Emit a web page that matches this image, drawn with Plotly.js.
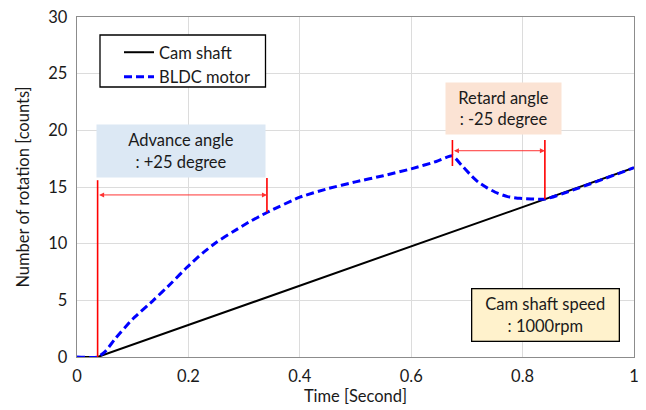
<!DOCTYPE html>
<html>
<head>
<meta charset="utf-8">
<script src="https://cdn.plot.ly/plotly-3.0.1.min.js"></script>
<style>html,body{margin:0;padding:0;background:#fff;}#chart{width:646px;height:410px;}</style>
</head>
<body>
<div id="chart"></div>
<script>
// ---- data ----
var camTime = [0, 0.037, 1.0];
var camCounts = [0, 0, 16.7];

var bldcTime = [0, 0.037, 0.05, 0.07, 0.1, 0.137, 0.17, 0.197, 0.225, 0.251, 0.28, 0.305, 0.341,
                0.4, 0.45, 0.5, 0.55, 0.6, 0.645, 0.674, 0.69, 0.707, 0.72, 0.737, 0.755, 0.773,
                0.795, 0.815, 0.84, 1.0];
var bldcCounts = [0, 0, 0.45, 1.7, 3.35, 5.0, 6.55, 7.9, 9.15, 10.15, 11.05, 11.8, 12.75,
                  14.1, 14.85, 15.45, 16.0, 16.6, 17.25, 17.75, 16.95, 16.05, 15.45, 14.9, 14.45, 14.15,
                  14.0, 13.95, 13.93, 16.7];

var advanceTimes = [0.037, 0.341];     // start / end of advance angle
var advanceLineTops = [15.6, 15.8];
var advanceArrowY = 14.3;
var retardTimes = [0.674, 0.84];
var retardLineTops = [19.15, 19.15];
var retardLineBottoms = [16.85, 13.93];
var retardArrowY = 18.2;

var xTickVals = [0, 0.2, 0.4, 0.6, 0.8, 1];
var yTickVals = [0, 5, 10, 15, 20, 25, 30];

// ---- layout helpers ----
var W = 646, H = 410;
var M = {l: 77, r: 12, t: 17, b: 53};
function px2px(x){ return (x - M.l) / (W - M.l - M.r); }
function py2py(y){ return (H - M.b - y) / (H - M.t - M.b); }

var FONT = 'Lato, "Open Sans", sans-serif';
var red = '#ff0000';
var TXT = '#1a1a1a';

var traces = [
  {x: camTime, y: camCounts, mode: 'lines', name: 'Cam shaft',
   line: {color: '#000000', width: 2}},
  {x: bldcTime, y: bldcCounts, mode: 'lines', name: 'BLDC motor',
   line: {color: '#0000ff', width: 3, dash: '8px,4px', shape: 'spline', smoothing: 0.5}}
];

var shapes = [
  // legend box
  {type: 'rect', xref: 'paper', yref: 'paper', x0: px2px(100), x1: px2px(265.5), y0: py2py(87), y1: py2py(35),
   line: {color: '#000', width: 1.3}, fillcolor: 'rgba(255,255,255,1)', layer: 'above'},
  // advance vertical lines
  {type: 'line', xref: 'x', yref: 'y', x0: advanceTimes[0], x1: advanceTimes[0], y0: 0, y1: advanceLineTops[0],
   line: {color: red, width: 1.6}},
  {type: 'line', xref: 'x', yref: 'y', x0: advanceTimes[1], x1: advanceTimes[1], y0: 12.77, y1: advanceLineTops[1],
   line: {color: red, width: 1.6}},
  // retard vertical lines
  {type: 'line', xref: 'x', yref: 'y', x0: retardTimes[0], x1: retardTimes[0], y0: retardLineBottoms[0], y1: retardLineTops[0],
   line: {color: red, width: 1.6}},
  {type: 'line', xref: 'x', yref: 'y', x0: retardTimes[1], x1: retardTimes[1], y0: retardLineBottoms[1], y1: retardLineTops[1],
   line: {color: red, width: 1.6}}
];

var annotations = [
  // arrows
  {xref: 'x', yref: 'y', axref: 'x', ayref: 'y', x: advanceTimes[1], y: advanceArrowY,
   ax: advanceTimes[0], ay: advanceArrowY, text: '', showarrow: true, arrowside: 'end+start',
   arrowhead: 2, arrowsize: 1, arrowwidth: 1, arrowcolor: '#ff3333', standoff: 0, startstandoff: 0},
  {xref: 'x', yref: 'y', axref: 'x', ayref: 'y', x: retardTimes[1], y: retardArrowY,
   ax: retardTimes[0], ay: retardArrowY, text: '', showarrow: true, arrowside: 'end+start',
   arrowhead: 2, arrowsize: 1, arrowwidth: 1, arrowcolor: '#ff3333', standoff: 0, startstandoff: 0},
  // text boxes
  {xref: 'paper', yref: 'paper', x: px2px(181), y: py2py(151), xanchor: 'center', yanchor: 'middle',
   text: 'Advance angle<br>: +25 degree', showarrow: false, bgcolor: '#dce8f4',
   width: 168, height: 52, borderpad: 0, font: {family: FONT, size: 16.5, color: TXT}},
  {xref: 'paper', yref: 'paper', x: px2px(503), y: py2py(108), xanchor: 'center', yanchor: 'middle',
   text: 'Retard angle<br>: -25 degree', showarrow: false, bgcolor: '#fbe3d4',
   width: 115, height: 51, borderpad: 0, font: {family: FONT, size: 16.5, color: TXT}},
  {xref: 'paper', yref: 'paper', x: px2px(545), y: py2py(314.5), xanchor: 'center', yanchor: 'middle',
   text: 'Cam shaft speed<br>: 1000rpm', showarrow: false, bgcolor: '#fff2cc',
   bordercolor: '#000', borderwidth: 1.3,
   width: 146, height: 51, borderpad: 0, font: {family: FONT, size: 16.5, color: TXT}}
];

var layout = {
  width: W, height: H,
  margin: M,
  paper_bgcolor: '#fff', plot_bgcolor: '#fff',
  font: {family: FONT, size: 16, color: TXT},
  showlegend: true,
  legend: {x: px2px(119), y: py2py(35), xanchor: 'left', yanchor: 'top',
           bgcolor: 'rgba(0,0,0,0)', borderwidth: 0, itemwidth: 30,
           font: {family: FONT, size: 16.5, color: TXT}, tracegroupgap: 0},
  xaxis: {range: [0, 1], tickvals: xTickVals, ticktext: xTickVals.map(String),
          showgrid: true, gridcolor: '#dcdcdc', gridwidth: 1,
          showline: true, linecolor: '#8c8c8c', linewidth: 1.3, mirror: true,
          zeroline: false, ticks: 'outside', ticklen: 4, tickcolor: 'rgba(0,0,0,0)',
          tickfont: {family: FONT, size: 16.5, color: TXT},
          title: {text: 'Time [Second]', font: {family: FONT, size: 16.5, color: TXT}, standoff: 4}},
  yaxis: {range: [0, 30], tickvals: yTickVals,
          showgrid: true, gridcolor: '#dcdcdc', gridwidth: 1,
          showline: true, linecolor: '#8c8c8c', linewidth: 1.3, mirror: true,
          zeroline: false, ticks: 'outside', ticklen: 5, tickcolor: 'rgba(0,0,0,0)',
          tickfont: {family: FONT, size: 16.5, color: TXT},
          title: {text: 'Number of rotation [counts]', font: {family: FONT, size: 16.5, color: TXT}, standoff: 14}},
  shapes: shapes,
  annotations: annotations
};

Plotly.newPlot('chart', traces, layout, {displayModeBar: false, staticPlot: true});
</script>
</body>
</html>
